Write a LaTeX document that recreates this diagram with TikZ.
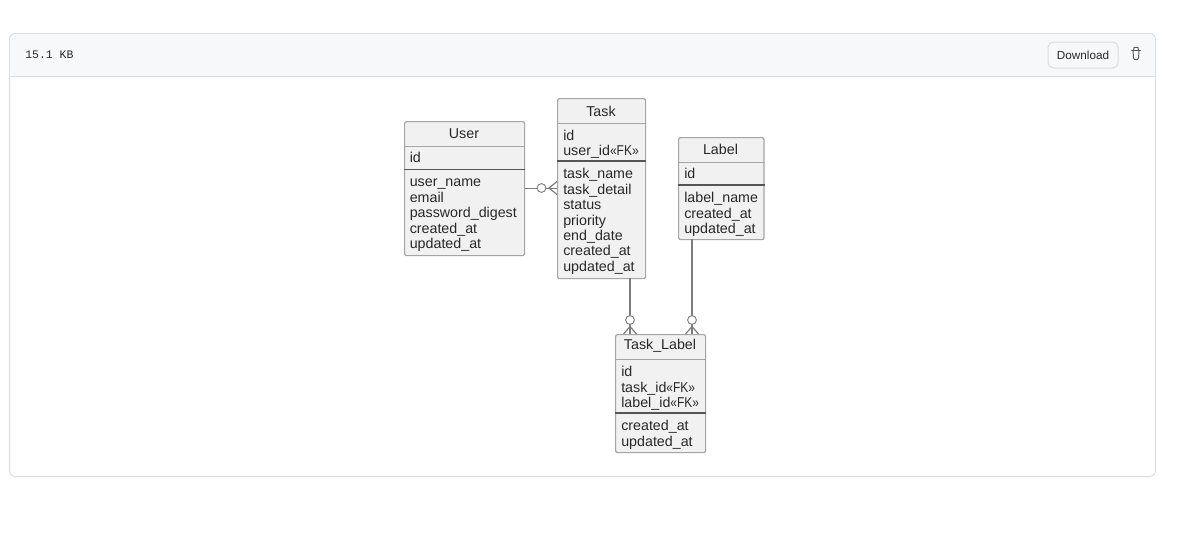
\documentclass[tikz,border=0pt]{standalone}
\usepackage{fontspec}
\setmainfont{Liberation Sans}
\setmonofont{Liberation Mono}
\usepackage{tikz}
\definecolor{panelline}{RGB}{216,222,228}
\definecolor{panelhead}{RGB}{246,248,250}
\definecolor{entityfill}{RGB}{241,241,241}
\definecolor{entityline}{RGB}{165,165,165}
\definecolor{entityrule}{RGB}{85,85,85}
\definecolor{inktext}{RGB}{40,40,40}
\definecolor{relline}{RGB}{125,125,125}
\newcommand{\fkmark}{\scalebox{0.84}[1]{«FK»}}
\tikzset{
  entity/.style={draw=entityline,fill=entityfill,line width=0.9pt,rounded corners=1.5pt,anchor=north west,inner sep=0pt},
  title/.style={text=inktext,font=\fontsize{10.7}{11.6}\selectfont,inner sep=0pt},
  rows/.style={text=inktext,font=\fontsize{10.7}{11.6}\selectfont,anchor=north west,align=left,inner sep=0pt},
  rel/.style={draw=relline,line width=0.9pt},
  ring/.style={circle,draw=relline,line width=0.7pt,fill=white,minimum size=6.6pt,inner sep=0pt},
}
\begin{document}
\begin{tikzpicture}[x=0.75pt,y=0.75pt,yscale=-1,xscale=1]
\path[use as bounding box,fill=white] (0,0) rectangle (1184,532);
% panel
\draw[panelline,line width=0.75pt,rounded corners=4.5pt,fill=white] (9.5,33.5) rectangle (1155.5,476.5);
\path[fill=panelhead,rounded corners=4.5pt] (10,34) -- (1155,34) -- (1155,76.5) -- (10,76.5) -- cycle;
\draw[panelline,line width=0.75pt] (10,76.5) -- (1155,76.5);
\node (size_label) [anchor=west,inner sep=0pt,text=inktext,font=\ttfamily\fontsize{8.6}{10}\selectfont] at (25,54.5) {15.1 KB};
\node (download_btn) [draw=panelline,fill=panelhead,rounded corners=4pt,line width=0.75pt,minimum width=52.5pt,minimum height=19.5pt,inner sep=0pt,text=inktext,font=\fontsize{8.8}{10}\selectfont] at (1083,55) {Download};
% trash icon
\draw[entityrule,line width=0.7pt,line cap=round,line join=round] (1131.5,50.5) -- (1140.5,50.5) (1133.5,50.5) -- (1134,47.5) -- (1138,47.5) -- (1138.5,50.5) (1133,50.5) -- (1133.5,58) -- (1134.5,59.5) -- (1137.5,59.5) -- (1138.5,58) -- (1139,50.5);
% entity boxes
\node (user) [entity,minimum width=90pt,minimum height=100.5pt] at (404,121) {};
\node (task) [entity,minimum width=66pt,minimum height=135pt] at (557,98) {};
\node (label) [entity,minimum width=64pt,minimum height=76.5pt] at (678,137) {};
\node (task_label) [entity,minimum width=67.5pt,minimum height=88.5pt] at (615,334) {};
% compartment rules
\draw[entityline,line width=0.75pt] (user.west |- 0,146) -- (user.east |- 0,146);
\draw[entityrule,line width=0.9pt] (user.west |- 0,169.5) -- (user.east |- 0,169.5);
\draw[entityline,line width=0.75pt] (task.west |- 0,123) -- (task.east |- 0,123);
\draw[entityrule,line width=0.9pt] (task.west |- 0,161) -- (task.east |- 0,161);
\draw[entityline,line width=0.75pt] (label.west |- 0,162) -- (label.east |- 0,162);
\draw[entityrule,line width=0.9pt] (label.west |- 0,185) -- (label.east |- 0,185);
\draw[entityline,line width=0.75pt] (task_label.west |- 0,359) -- (task_label.east |- 0,359);
\draw[entityrule,line width=0.9pt] (task_label.west |- 0,413) -- (task_label.east |- 0,413);
% entity texts
\node (user_title) [title] at (464,134) {User};
\node (user_key) [rows] at (409.5,152) {id};
\node (user_attr) [rows] at (409.5,179) {user\_name\\email\\password\_digest\\created\_at\\updated\_at};
\node (task_title) [title] at (601,111) {Task};
\node (task_key) [rows] at (563,129.5) {id\\user\_id\fkmark};
\node (task_attr) [rows] at (563,168) {task\_name\\task\_detail\\status\\priority\\end\_date\\created\_at\\updated\_at};
\node (label_title) [title] at (720.5,149) {Label};
\node (label_key) [rows] at (684,168) {id};
\node (label_attr) [rows] at (684,192) {label\_name\\created\_at\\updated\_at};
\node (task_label_title) [title] at (660,346) {Task\_Label};
\node (task_label_key) [rows] at (621,366) {id\\task\_id\fkmark\\label\_id\fkmark};
\node (task_label_attr) [rows] at (621,420) {created\_at\\updated\_at};
% relations
\coordinate (task_foot) at (630,278);
\coordinate (tl_task) at (630,334);
\coordinate (label_foot) at (692,239);
\coordinate (tl_label) at (692,334);
\draw[rel] (user.east) -- (task.west);
\draw[rel] (task_foot) -- (tl_task);
\draw[rel] (label_foot) -- (tl_label);
\node (user_ring) [ring] at (541.5,188) {};
\node (task_ring) [ring] at (630,320) {};
\node (label_ring) [ring] at (692,320) {};
\draw[rel] (task.west |- 0,181.5) -- (549,188) -- (task.west |- 0,194.5);
\draw[rel] (623.5,334) -- (630,326.5) -- (636.5,334);
\draw[rel] (685.5,334) -- (692,326.5) -- (698.5,334);
\end{tikzpicture}
\end{document}
